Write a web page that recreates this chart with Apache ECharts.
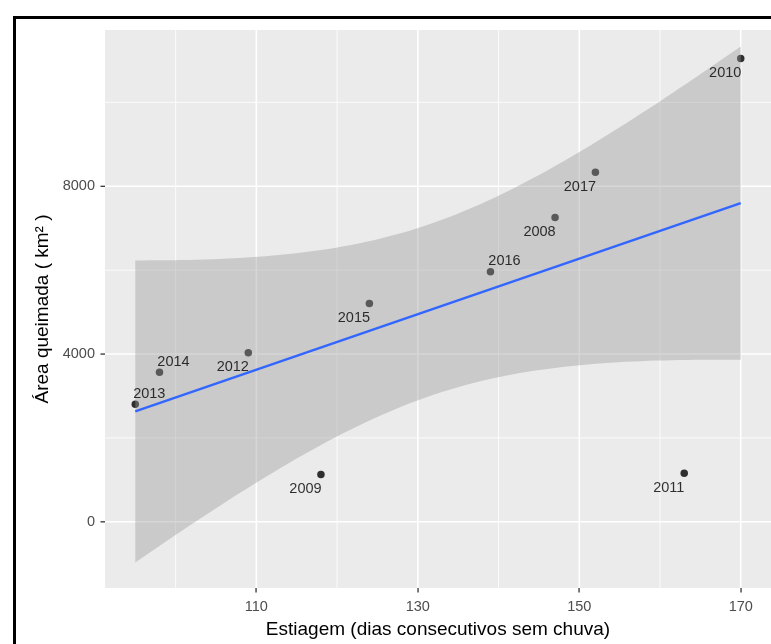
<!DOCTYPE html>
<html><head><meta charset="utf-8">
<script src="https://cdn.jsdelivr.net/npm/echarts@6/dist/echarts.min.js"></script>
<style>html,body{margin:0;padding:0;background:#fff}#c{width:771px;height:644px}</style>
</head><body><div id="c"></div>
<script>
// ---- data ----
const years        = ['2013','2014','2012','2009','2015','2016','2008','2017','2011','2010'];
const estiagem     = [95, 98, 109, 118, 124, 139, 147, 152, 163, 170];
const areaQueimada = [2802, 3564, 4031, 1126, 5207, 5960, 7255, 8333, 1160, 11048];
const xTicks       = [110, 130, 150, 170];
const xMinorGrid   = [100, 120, 140, 160];
const yTicks       = [0, 4000, 8000];
const yMinorGrid   = [2000, 6000, 10000];

// label placement (style only): 'ur' = above-right, 'dl' = below-left
const labelSide = ['ur','ur','dl','dl','dl','ur','dl','dl','dl','dl'];
const LABEL_OFFSET = { ur: [14, -10.5], dl: [-15.5, 14.5] };

// axis extents
const X_MIN = 91.25, X_MAX = 173.75, Y_MIN = -1579, Y_MAX = 11726;
const TICK_LEN = 4.5;

// ---- linear model (lm) with 95% confidence band, like geom_smooth(method='lm') ----
const n = estiagem.length;
const mx = estiagem.reduce((a,b)=>a+b,0)/n;
const my = areaQueimada.reduce((a,b)=>a+b,0)/n;
let sxx = 0, sxy = 0;
for (let i=0;i<n;i++){ sxx += (estiagem[i]-mx)**2; sxy += (estiagem[i]-mx)*(areaQueimada[i]-my); }
const slope = sxy/sxx, intercept = my - slope*mx;
let ssr = 0;
for (let i=0;i<n;i++){ const r = areaQueimada[i] - (intercept + slope*estiagem[i]); ssr += r*r; }
const s = Math.sqrt(ssr/(n-2));
const T_QUANT = 2.306; // qt(0.975, df = 8)
const xLo = Math.min(...estiagem), xHi = Math.max(...estiagem);
const fitX = [], fitHi = [], fitLo = [];
for (let i=0;i<80;i++){
  const xv = xLo + (xHi-xLo)*i/79;
  const yv = intercept + slope*xv;
  const se = s*Math.sqrt(1/n + (xv-mx)**2/sxx);
  fitX.push(xv); fitHi.push(yv + T_QUANT*se); fitLo.push(yv - T_QUANT*se);
}

const FONT = 'Liberation Sans, Arial, sans-serif';
const chart = echarts.init(document.getElementById('c'), null, {renderer:'canvas'});

const option = {
  animation: false,
  backgroundColor: '#fff',
  textStyle: { fontFamily: FONT },
  graphic: [{
    id: 'frame', type: 'rect', silent: true, z: 100,
    shape: { x: 14.5, y: 17.5, width: 900, height: 800 },
    style: { fill: 'none', stroke: '#000', lineWidth: 3 }
  }],
  grid: { left: 105, top: 30, width: 666, height: 559, show: true, backgroundColor: '#EBEBEB', borderWidth: 0 },
  xAxis: {
    type: 'value', min: X_MIN, max: X_MAX, position: 'bottom',
    splitLine: { show: false },
    axisLine: { show: false, onZero: false },
    axisTick: { show: false },
    axisLabel: { customValues: xTicks, formatter: v => String(v), color: '#4D4D4D', fontSize: 14.5, fontFamily: FONT, margin: 11 },
    name: 'Estiagem (dias consecutivos sem chuva)',
    nameLocation: 'middle', nameGap: 32,
    nameTextStyle: { fontSize: 19, color: '#000', fontFamily: FONT }
  },
  yAxis: {
    type: 'value', min: Y_MIN, max: Y_MAX, position: 'left',
    splitLine: { show: false },
    axisLine: { show: false, onZero: false },
    axisTick: { show: false },
    axisLabel: { customValues: yTicks, formatter: v => String(v), color: '#4D4D4D', fontSize: 14.5, fontFamily: FONT, margin: 10 },
    name: 'Área queimada ( km² )',
    nameLocation: 'middle', nameGap: 53, nameRotate: 90,
    nameTextStyle: { fontSize: 19, color: '#000', fontFamily: FONT }
  },
  series: [
    { // grid lines
      type: 'custom', z: 1, silent: true, clip: true,
      data: [[X_MIN, Y_MIN]],
      renderItem: function (params, api) {
        const children = [];
        const vline = (v, w) => { const a = api.coord([v, Y_MIN]), b = api.coord([v, Y_MAX]);
          children.push({ type: 'line', shape: { x1: a[0], y1: a[1], x2: b[0], y2: b[1] }, style: { stroke: '#fff', lineWidth: w } }); };
        const hline = (v, w) => { const a = api.coord([X_MIN, v]), b = api.coord([X_MAX, v]);
          children.push({ type: 'line', shape: { x1: a[0], y1: a[1], x2: b[0], y2: b[1] }, style: { stroke: '#fff', lineWidth: w } }); };
        xMinorGrid.forEach(v => vline(v, 0.8));
        yMinorGrid.forEach(v => hline(v, 0.8));
        xTicks.forEach(v => vline(v, 1.6));
        yTicks.forEach(v => hline(v, 1.6));
        return { type: 'group', children };
      }
    },
    { // points (drawn under the ribbon)
      type: 'scatter', z: 2, silent: true,
      symbol: 'circle', symbolSize: 7.5,
      itemStyle: { color: '#000' },
      data: estiagem.map((x,i)=>[x, areaQueimada[i]])
    },
    { // confidence band
      type: 'custom', z: 3, silent: true,
      data: [[fitX[0], fitLo[0]]],
      renderItem: function (params, api) {
        const pts = [];
        for (let i=0;i<fitX.length;i++) pts.push(api.coord([fitX[i], fitHi[i]]));
        for (let i=fitX.length-1;i>=0;i--) pts.push(api.coord([fitX[i], fitLo[i]]));
        return { type: 'polygon', shape: { points: pts }, style: { fill: 'rgba(153,153,153,0.4)' } };
      }
    },
    { // regression line
      type: 'line', z: 4, silent: true, symbol: 'none',
      lineStyle: { color: '#3366FF', width: 2.5 },
      data: [[xLo, intercept + slope*xLo], [xHi, intercept + slope*xHi]]
    },
    { // year labels
      type: 'scatter', z: 5, silent: true, symbolSize: 0,
      data: estiagem.map((x,i)=>({
        value: [x, areaQueimada[i]],
        label: { show: true, formatter: years[i], position: 'inside', offset: LABEL_OFFSET[labelSide[i]],
                 align: 'center', verticalAlign: 'middle', color: '#000', fontSize: 14.5, fontFamily: FONT }
      }))
    }
  ]
};
chart.setOption(option);

// axis tick marks, positioned through the chart's own scales
const tickGraphics = [];
xTicks.forEach((v, i) => {
  const p = chart.convertToPixel({ gridIndex: 0 }, [v, Y_MIN]);
  tickGraphics.push({ id: 'xt' + i, type: 'rect', silent: true, z: 101,
    shape: { x: Math.round(p[0]) - 0.6, y: p[1], width: 1.3, height: TICK_LEN }, style: { fill: '#333' } });
});
yTicks.forEach((v, i) => {
  const p = chart.convertToPixel({ gridIndex: 0 }, [X_MIN, v]);
  tickGraphics.push({ id: 'yt' + i, type: 'rect', silent: true, z: 101,
    shape: { x: p[0] - TICK_LEN, y: p[1] - 0.6, width: TICK_LEN, height: 1.3 }, style: { fill: '#333' } });
});
chart.setOption({ graphic: tickGraphics });
</script></body></html>
